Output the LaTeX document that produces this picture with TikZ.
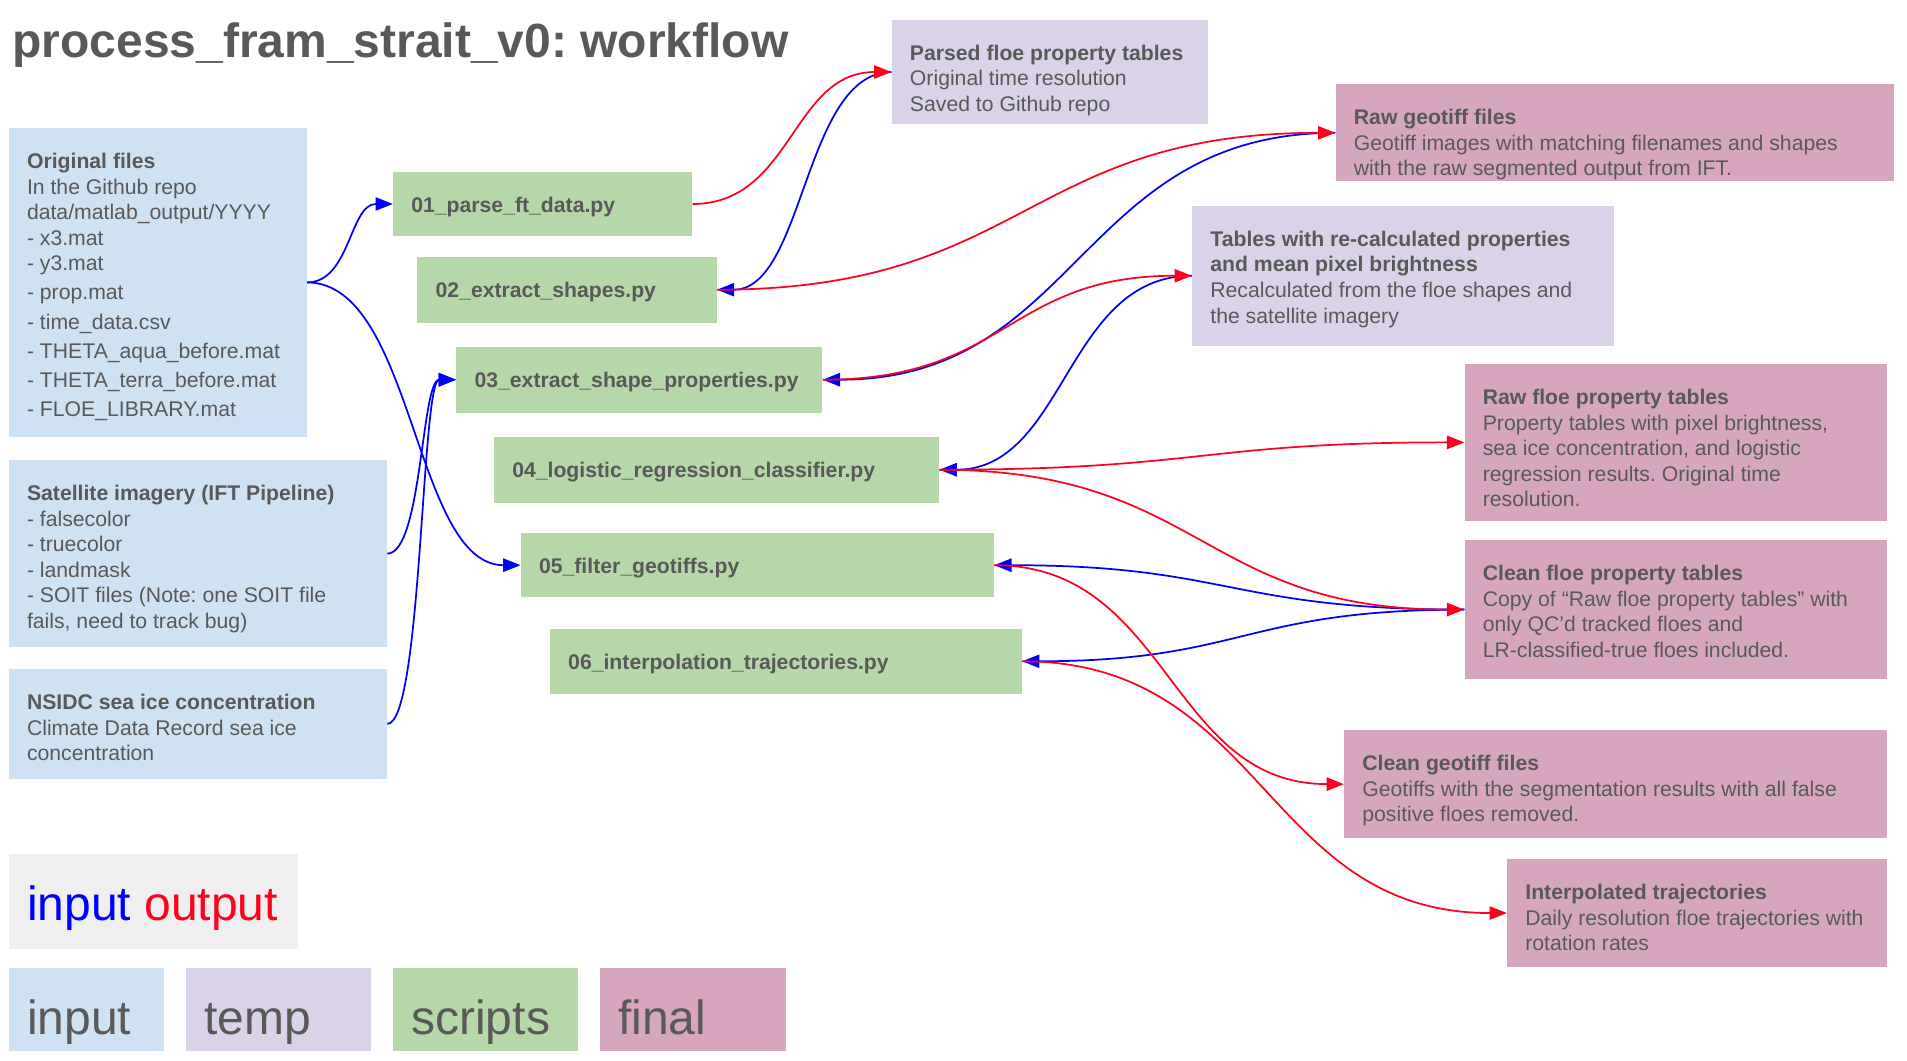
\documentclass[tikz,border=0pt]{standalone}
\usepackage{fontspec}
\setmainfont{Liberation Sans}
\usetikzlibrary{arrows.meta}
\frenchspacing
\definecolor{txt}{HTML}{595959}
\definecolor{cin}{HTML}{CFE2F3}
\definecolor{ctmp}{HTML}{D9D2E9}
\definecolor{cscr}{HTML}{B6D7A8}
\definecolor{cfin}{HTML}{D5A6BD}
\definecolor{cleg}{HTML}{EFEFEF}
\definecolor{cred}{RGB}{255,0,30}
\definecolor{cblue}{RGB}{0,0,255}
% [first baseline]{name}{options}{x0}{y0}{x1}{y1}{text}
\newcommand\mkbox[8][30.4pt]{%
  \pgfmathsetmacro\myBW{(#6-#4)*0.9122}%
  \pgfmathsetmacro\myBH{(#7-#5)*0.9122}%
  \node[box,#3] (#2) at (#4,#5)
    {\begin{minipage}[t][\myBH pt][t]{\myBW pt}\frenchspacing\hspace*{13.683pt}\begin{tabular}[t]{@{}l@{}}\rule{0pt}{#1}#8\end{tabular}\end{minipage}};}
\tikzset{
  box/.style={anchor=north west, inner sep=0pt, text=txt,
    font=\fontsize{15.9}{19.2}\selectfont},
  big/.style={font=\fontsize{36}{43}\selectfont},
  inarr/.style={draw=cblue, line width=1.3pt, -{Triangle[length=13pt,width=10pt]}},
  outarr/.style={draw=cred, line width=1.3pt, -{Triangle[length=13pt,width=10pt]}},
}
\begin{document}
\begin{tikzpicture}[x=0.9122pt,y=-0.9122pt]
\fill[white] (0,0) rectangle (1568,872);
\useasboundingbox (0,0) rectangle (1568,872);

\node[anchor=base west, inner sep=0, text=txt, font=\bfseries\fontsize{36}{43}\selectfont] (title) at (10,47.5) {process\_fram\_strait\_v0: workflow};

% inputs
\mkbox{orig}{fill=cin}{7}{105}{252}{359}{\textbf{Original files}\\ In the Github repo\\ data/matlab\_output/YYYY\\ - x3.mat\\ - y3.mat\\[2.6pt] - prop.mat\\[2.6pt] - time\_data.csv\\[2.6pt] - THETA\_aqua\_before.mat\\[2.6pt] - THETA\_terra\_before.mat\\[2.6pt] - FLOE\_LIBRARY.mat}
\mkbox{sat}{fill=cin}{7}{378}{318}{532}{\textbf{Satellite imagery (IFT Pipeline)}\\ - falsecolor\\ - truecolor\\ - landmask\\ - SOIT files (Note: one SOIT file\\ fails, need to track bug)}
\mkbox{nsidc}{fill=cin}{7}{550}{318}{640}{\textbf{NSIDC sea ice concentration}\\ Climate Data Record sea ice\\ concentration}

% scripts
\mkbox{s01}{fill=cscr}{323}{141}{569}{194}{\textbf{01\_parse\_ft\_data.py}}
\mkbox{s02}{fill=cscr}{343}{211}{589}{265}{\textbf{02\_extract\_shapes.py}}
\mkbox{s03}{fill=cscr}{375}{285}{676}{339}{\textbf{03\_extract\_shape\_properties.py}}
\mkbox{s04}{fill=cscr}{406}{359}{772}{413}{\textbf{04\_logistic\_regression\_classifier.py}}
\mkbox{s05}{fill=cscr}{428}{438}{817}{491}{\textbf{05\_filter\_geotiffs.py}}
\mkbox{s06}{fill=cscr}{452}{517}{840}{570}{\textbf{06\_interpolation\_trajectories.py}}

% temp
\mkbox{parsed}{fill=ctmp}{733}{16}{993}{102}{\textbf{Parsed floe property tables}\\ Original time resolution\\ Saved to Github repo}
\mkbox{recalc}{fill=ctmp}{980}{169}{1327}{284}{\textbf{Tables with re-calculated properties}\\ \textbf{and mean pixel brightness}\\ Recalculated from the floe shapes and\\ the satellite imagery}

% final
\mkbox{rawgeo}{fill=cfin}{1098}{69}{1557}{149}{\textbf{Raw geotiff files}\\ Geotiff images with matching filenames and shapes\\ with the raw segmented output from IFT.}
\mkbox{rawfloe}{fill=cfin}{1204}{299}{1551}{428}{\textbf{Raw floe property tables}\\ Property tables with pixel brightness,\\ sea ice concentration, and logistic\\ regression results. Original time\\ resolution.}
\mkbox{cleanfloe}{fill=cfin}{1204}{444}{1551}{558}{\textbf{Clean floe property tables}\\ Copy of “Raw floe property tables” with\\ only QC’d tracked floes and\\ LR-classified-true floes included.}
\mkbox{cleangeo}{fill=cfin}{1105}{600}{1551}{689}{\textbf{Clean geotiff files}\\ Geotiffs with the segmentation results with all false\\ positive floes removed.}
\mkbox{interp}{fill=cfin}{1239}{706}{1551}{795}{\textbf{Interpolated trajectories}\\ Daily resolution floe trajectories with\\ rotation rates}

% legend
\mkbox[49.6pt]{leg}{fill=cleg,big}{7}{702}{245}{780}{{\color{cblue}input} {\color{cred}output}}
\mkbox[49.6pt]{legin}{fill=cin,big}{7}{796}{135}{864}{input}
\mkbox[49.6pt]{legtmp}{fill=ctmp,big}{153}{796}{305}{864}{temp}
\mkbox[49.6pt]{legscr}{fill=cscr,big}{323}{796}{475}{864}{scripts}
\mkbox[49.6pt]{legfin}{fill=cfin,big}{493}{796}{646}{864}{final}

% inputs (blue)
\draw[inarr] (orig.east) .. controls +(35.5,0) and +(-35.5,0) .. (s01.west);
\draw[inarr] (orig.east) .. controls +(88,0) and +(-88,0) .. (s05.west);
\draw[inarr] (sat.east) .. controls +(28.5,0) and +(-28.5,0) .. (s03.west);
\draw[inarr] (nsidc.east) .. controls +(28.5,0) and +(-28.5,0) .. (s03.west);
\draw[inarr] (parsed.west) .. controls +(-72,0) and +(72,0) .. (s02.east);
\draw[inarr] (rawgeo.west) .. controls +(-211,0) and +(211,0) .. (s03.east);
\draw[inarr] (recalc.west) .. controls +(-104,0) and +(104,0) .. (s04.east);
\draw[inarr] (cleanfloe.west) .. controls +(-193.5,0) and +(193.5,0) .. (s05.east);
\draw[inarr] (cleanfloe.west) .. controls +(-182,0) and +(182,0) .. (s06.east);

% outputs (red)
\draw[outarr] (s01.east) .. controls +(82,0) and +(-82,0) .. (parsed.west);
\draw[outarr] (s02.east) .. controls +(254.5,0) and +(-254.5,0) .. (rawgeo.west);
\draw[outarr] (s03.east) .. controls +(152,0) and +(-152,0) .. (recalc.west);
\draw[outarr] (s04.east) .. controls +(216,0) and +(-216,0) .. (rawfloe.west);
\draw[outarr] (s04.east) .. controls +(216,0) and +(-216,0) .. (cleanfloe.west);
\draw[outarr] (s05.east) .. controls +(144,0) and +(-144,0) .. (cleangeo.west);
\draw[outarr] (s06.east) .. controls +(199.5,0) and +(-199.5,0) .. (interp.west);
\end{tikzpicture}
\end{document}
